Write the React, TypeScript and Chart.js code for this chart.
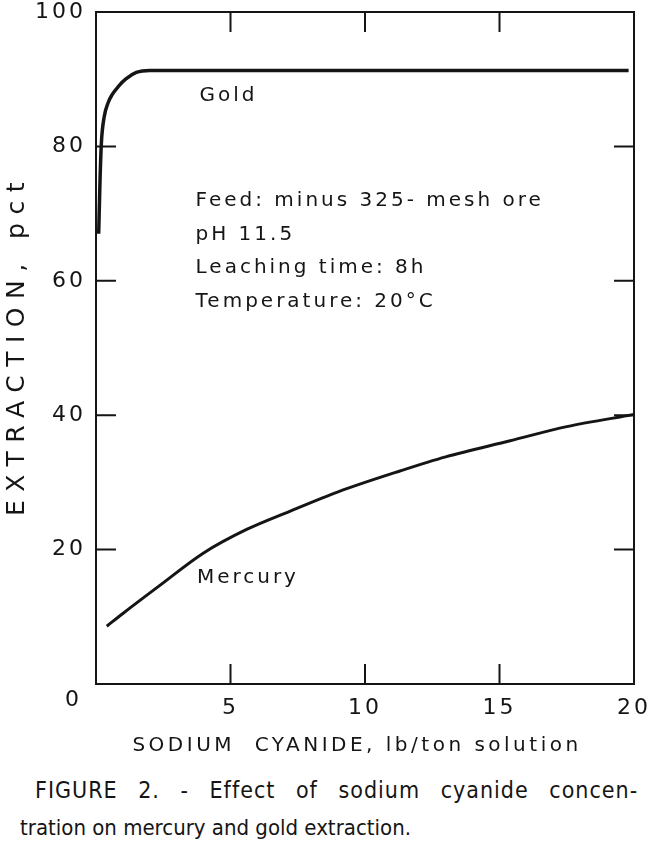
import React, { useEffect, useRef } from 'react';
import { Chart, registerables } from 'chart.js';

Chart.register(...registerables);

// ---- data ----
const goldX = [0.1, 0.15, 0.2, 0.3, 0.45, 0.6, 0.85, 1.1, 1.5, 2.0, 19.8];
const goldY = [67, 75, 80.5, 84.3, 86.5, 87.7, 89, 90, 91, 91.3, 91.3];
const mercuryX = [0.4, 1, 2.35, 4, 5.6, 7.2, 9, 11.3, 13, 15.4, 17.5, 20];
const mercuryY = [8.6, 10.5, 14.6, 19.5, 23, 25.7, 28.6, 31.7, 33.8, 36.2, 38.3, 40.1];
const xRange = [0, 20];
const yRange = [0, 100];
const xStep = 5;
const yStep = 20;
const seriesNames = ['Gold', 'Mercury'];
const conditions = ['Feed: minus 325- mesh ore', 'pH 11.5', 'Leaching time: 8h', 'Temperature: 20°C'];
const xTitle = 'SODIUM  CYANIDE, lb/ton solution';
const yTitle = 'EXTRACTION, pct';
const captionLines = ['FIGURE 2. - Effect of sodium cyanide concen-', 'tration on mercury and gold extraction.'];

const FONT = '"DejaVu Sans", sans-serif';
const INK = '#151515';

function drawText(
  ctx: CanvasRenderingContext2D,
  text: string,
  x: number,
  y: number,
  size: number,
  spacing: number,
  align: CanvasTextAlign,
  rotate = 0
) {
  ctx.save();
  ctx.translate(x, y);
  if (rotate) ctx.rotate(rotate);
  ctx.font = `${size}px ${FONT}`;
  (ctx as any).letterSpacing = `${spacing}px`;
  ctx.textAlign = align;
  ctx.textBaseline = 'middle';
  ctx.fillStyle = INK;
  ctx.fillText(text, 0, 0);
  ctx.restore();
}

const zeroPadding = (s: any) => {
  s.paddingTop = 0;
  s.paddingBottom = 0;
  s.paddingLeft = 0;
  s.paddingRight = 0;
};

export default function App() {
  const ref = useRef<HTMLCanvasElement>(null);

  useEffect(() => {
    const canvas = ref.current;
    if (!canvas) return;

    const framePlugin = {
      id: 'frame',
      beforeDraw(chart: any) {
        const ctx = chart.ctx as CanvasRenderingContext2D;
        ctx.save();
        ctx.fillStyle = '#ffffff';
        ctx.fillRect(0, 0, chart.width, chart.height);
        ctx.restore();
        (ctx as any).letterSpacing = '3px';
      },
      afterDraw(chart: any) {
        const ctx = chart.ctx as CanvasRenderingContext2D;
        const a = chart.chartArea;
        const xs = chart.scales.x;
        const ys = chart.scales.y;
        ctx.save();
        (ctx as any).letterSpacing = '0px';
        ctx.strokeStyle = INK;
        ctx.lineWidth = 2;
        ctx.strokeRect(a.left, a.top, a.right - a.left, a.bottom - a.top);
        const L = 20;
        ctx.beginPath();
        xs.ticks.forEach((t: any) => {
          if (t.value <= xRange[0] || t.value >= xRange[1]) return;
          const px = xs.getPixelForValue(t.value);
          ctx.moveTo(px, a.bottom);
          ctx.lineTo(px, a.bottom - L);
          ctx.moveTo(px, a.top);
          ctx.lineTo(px, a.top + L);
        });
        ys.ticks.forEach((t: any) => {
          if (t.value <= yRange[0] || t.value >= yRange[1]) return;
          const py = ys.getPixelForValue(t.value);
          ctx.moveTo(a.left, py);
          ctx.lineTo(a.left + L, py);
          ctx.moveTo(a.right, py);
          ctx.lineTo(a.right - L, py);
        });
        ctx.stroke();
        ctx.restore();

        // corner zero label shared by both axes
        drawText(ctx, '0', a.left - 24, a.bottom + 16, 22, 0, 'center');

        // series labels
        drawText(ctx, seriesNames[0], xs.getPixelForValue(3.85), ys.getPixelForValue(87.5), 20, 3, 'left');
        drawText(ctx, seriesNames[1], xs.getPixelForValue(3.75), ys.getPixelForValue(15.8), 20, 3, 'left');

        // condition notes
        const cx = xs.getPixelForValue(3.7);
        const cy = ys.getPixelForValue(71.9);
        conditions.forEach((line, i) => {
          drawText(ctx, line, cx, cy + i * 33.5, 20, 3, 'left');
        });

        // axis titles
        drawText(ctx, xTitle, (a.left + a.right) / 2 - 8, a.bottom + 62, 20, 3.5, 'center');
        drawText(ctx, yTitle, 17, (a.top + a.bottom) / 2 - 3, 25, 8.5, 'center', -Math.PI / 2);
      },
    };

    const chart = new Chart(canvas, {
      type: 'line',
      data: {
        datasets: [
          {
            label: seriesNames[0],
            data: goldX.map((x, i) => ({ x, y: goldY[i] })),
            borderColor: INK,
            borderWidth: 3.5,
            pointRadius: 0,
            cubicInterpolationMode: 'monotone',
            fill: false,
          },
          {
            label: seriesNames[1],
            data: mercuryX.map((x, i) => ({ x, y: mercuryY[i] })),
            borderColor: INK,
            borderWidth: 3,
            pointRadius: 0,
            cubicInterpolationMode: 'monotone',
            fill: false,
          },
        ],
      },
      options: {
        responsive: false,
        animation: false,
        devicePixelRatio: 1,
        layout: { padding: { left: 0, right: 18, top: 12, bottom: 0 } },
        plugins: {
          legend: { display: false },
          tooltip: { enabled: false },
          title: { display: false },
        },
        scales: {
          x: {
            type: 'linear',
            min: xRange[0],
            max: xRange[1],
            border: { display: false },
            grid: { display: false, drawTicks: false },
            ticks: {
              stepSize: xStep,
              padding: 13,
              color: INK,
              maxRotation: 0,
              font: { family: FONT, size: 22, lineHeight: 1 },
              callback: (v: any) => (Number(v) === 0 ? '' : String(v)),
            },
            afterFit: (s: any) => {
              s.height = 81;
              zeroPadding(s);
            },
          },
          y: {
            type: 'linear',
            min: yRange[0],
            max: yRange[1],
            border: { display: false },
            grid: { display: false, drawTicks: false },
            ticks: {
              stepSize: yStep,
              padding: 10,
              color: INK,
              font: { family: FONT, size: 22, lineHeight: 1 },
              callback: (v: any) => (Number(v) === 0 ? '' : String(v)),
            },
            afterFit: (s: any) => {
              s.width = 96;
              zeroPadding(s);
            },
          },
        },
      },
      plugins: [framePlugin],
    } as any);

    return () => chart.destroy();
  }, []);

  const capFont = '"DejaVu Sans Condensed", "DejaVu Sans", sans-serif';
  return (
    <div
      style={{
        position: 'absolute',
        left: 0,
        top: 0,
        width: 652,
        height: 852,
        background: '#ffffff',
        overflow: 'hidden',
      }}
    >
      <canvas ref={ref} width={652} height={765} style={{ display: 'block', width: 652, height: 765 }} />
      <div
        style={{
          position: 'absolute',
          left: 0,
          top: 771,
          width: 652,
          fontFamily: capFont,
          fontStretch: 'condensed',
          fontSize: 23,
          lineHeight: '38px',
          color: INK,
          whiteSpace: 'pre',
        }}
      >
        <div style={{ paddingLeft: 35, wordSpacing: 13, letterSpacing: 1 }}>{captionLines[0]}</div>
        <div style={{ paddingLeft: 20, fontSize: 22 }}>{captionLines[1]}</div>
      </div>
    </div>
  );
}
